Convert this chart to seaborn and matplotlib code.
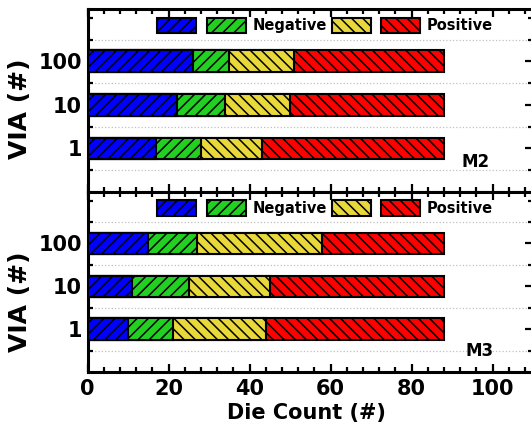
import matplotlib
matplotlib.use("Agg")
import matplotlib.pyplot as plt
from matplotlib.patches import Patch
from matplotlib.ticker import MultipleLocator, FixedLocator
import numpy as np
import seaborn as sns

# Via-chain size categories, listed top to bottom
via = ["100", "10", "1"]

# Die counts per category (order follows `via`) for each shift bucket
m2_blue = [26, 22, 17]
m2_green = [9, 12, 11]
m2_yellow = [16, 16, 15]
m2_red = [37, 38, 45]

m3_blue = [15, 11, 10]
m3_green = [12, 14, 11]
m3_yellow = [31, 20, 23]
m3_red = [30, 43, 44]

legend_labels = ["", "Negative", "", "Positive"]
colors = ["#0000FF", "#22D022", "#E8D83A", "#FF0000"]
hatches = ["///", "///", "\\\\\\", "\\\\\\"]

sns.set_theme(style="ticks")
plt.rcParams["font.family"] = ["DejaVu Sans"]
plt.rcParams["font.weight"] = "bold"
plt.rcParams["hatch.linewidth"] = 1.1
plt.rcParams["hatch.color"] = "black"
for key in ["text.color", "axes.labelcolor", "xtick.color", "ytick.color",
            "axes.edgecolor"]:
    plt.rcParams[key] = "black"

fig = plt.figure(figsize=(5.31, 4.33), dpi=100)
ax_top = fig.add_axes([0.1648, 0.5566, 0.839, 0.4226])
ax_bot = fig.add_axes([0.1648, 0.1409, 0.839, 0.4157])


def draw_panel(ax, segments, tag, tag_xy, ylabel_y, show_x):
    cum = np.cumsum(np.array(segments, dtype=float), axis=0)
    # stack by drawing the running totals from longest to shortest
    for i in reversed(range(len(segments))):
        sns.barplot(x=cum[i], y=via, order=via, orient="h",
                    color=colors[i], saturation=1, width=0.5,
                    hatch=hatches[i], edgecolor="black", linewidth=1.5,
                    errorbar=None, ax=ax, zorder=3)

    ax.set_xlim(0, 110)
    ax.set_ylim(3.0, -1.2)

    for g in [-0.5, 0.5, 1.5, 2.5]:
        ax.axhline(g, color="#c0c0c0", ls=":", lw=0.9, zorder=0)

    ax.xaxis.set_major_locator(MultipleLocator(20))
    ax.xaxis.set_minor_locator(MultipleLocator(4))
    ax.yaxis.set_major_locator(FixedLocator([0, 1, 2]))
    ax.set_yticklabels(via)
    ax.yaxis.set_minor_locator(FixedLocator([-1, -0.5, 0.5, 1.5, 2.5]))

    ax.tick_params(which="both", direction="in", top=True, right=True,
                   width=1.6, color="black", labelcolor="black")
    ax.tick_params(which="major", length=6)
    ax.tick_params(which="minor", length=3.5)
    ax.tick_params(axis="x", labelsize=15, pad=5, labelbottom=show_x)
    ax.tick_params(axis="y", labelsize=15, pad=4)
    for lab in ax.get_xticklabels() + ax.get_yticklabels():
        lab.set_fontweight("bold")

    for sp in ax.spines.values():
        sp.set_linewidth(2.2)
        sp.set_color("black")
        sp.set_visible(True)

    handles = [Patch(facecolor=c, edgecolor="black", hatch=h, linewidth=1.5)
               for c, h in zip(colors, hatches)]
    ax.legend(handles, legend_labels, ncol=4, loc="center left",
              bbox_to_anchor=(0.157, 0.91), frameon=False, borderpad=0,
              borderaxespad=0, handlelength=2.67, handleheight=1.3,
              handletextpad=0.45, columnspacing=0.3,
              prop={"weight": "bold", "size": 10.5}, labelcolor="black")

    ax.text(tag_xy[0], tag_xy[1], tag, ha="center", va="center",
            fontsize=12, fontweight="bold", color="black", zorder=5)

    ax.set_ylabel("VIA (#)", fontsize=18, fontweight="bold", color="black")
    ax.yaxis.set_label_coords(-0.125, ylabel_y)
    if show_x:
        ax.set_xlabel("Die Count (#)", fontsize=15, fontweight="bold",
                      color="black")
        ax.xaxis.set_label_coords(0.492, -0.175)
    else:
        ax.set_xlabel("")


draw_panel(ax_top, [m2_blue, m2_green, m2_yellow, m2_red], "M2",
           (95.9, 2.31), 0.456, False)
draw_panel(ax_bot, [m3_blue, m3_green, m3_yellow, m3_red], "M3",
           (96.9, 2.5), 0.389, True)

fig.savefig("out.png", dpi=100)
